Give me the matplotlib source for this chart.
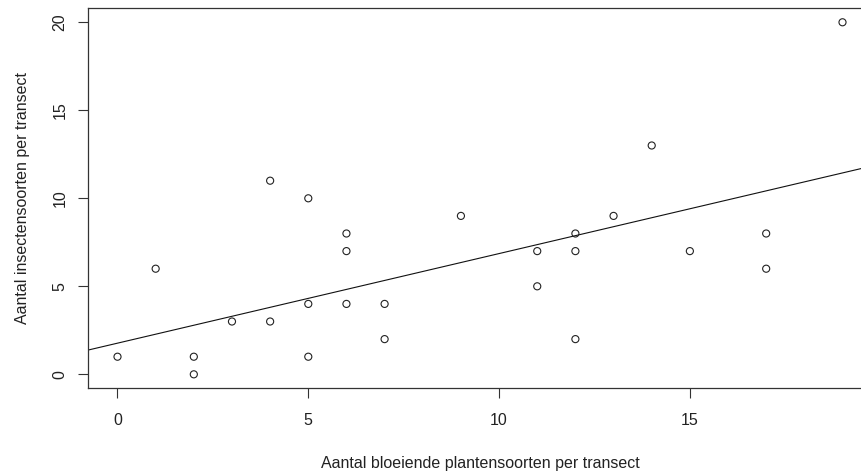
import matplotlib
matplotlib.use("Agg")
import matplotlib.pyplot as plt
import numpy as np

# Data
plant_species = [0, 1, 2, 2, 3, 4, 4, 5, 5, 5, 6, 6, 6, 7, 7, 9, 11, 11, 12, 12, 12, 13, 14, 15, 17, 17, 19]
insect_species = [1, 6, 1, 0, 3, 11, 3, 10, 4, 1, 8, 7, 4, 4, 2, 9, 7, 5, 8, 7, 2, 9, 13, 7, 8, 6, 20]
fit_intercept = 1.77
fit_slope = 0.509
x_ticks = [0, 5, 10, 15]
y_ticks = [0, 5, 10, 15, 20]
x_label = "Aantal bloeiende plantensoorten per transect"
y_label = "Aantal insectensoorten per transect"

plt.rcParams['font.family'] = ['Liberation Sans', 'DejaVu Sans']

W, H = 862, 472
fig = plt.figure(figsize=(W / 100, H / 100), dpi=100)
ax = fig.add_axes([88.5 / W, (H - 388.4) / H, (871.5 - 88.5) / W, (388.4 - 8.2) / H])

x = np.array(plant_species)
y = np.array(insect_species)
ax.scatter(x, y, s=26, facecolors='none', edgecolors='#222222', linewidths=0.8, zorder=3)

xmin, xmax = x.min(), x.max()
ymin, ymax = y.min(), y.max()
xr = (xmax - xmin) * 0.04
yr = (ymax - ymin) * 0.04
ax.set_xlim(xmin - xr, xmax + xr)
ax.set_ylim(ymin - yr, ymax + yr)

xl = np.array(ax.get_xlim())
ax.plot(xl, fit_intercept + fit_slope * xl, color='#111111', linewidth=0.8, zorder=2)

ax.set_xticks(x_ticks)
ax.set_yticks(y_ticks)
ax.set_xticklabels([str(t) for t in x_ticks])
ax.set_yticklabels([str(t) for t in y_ticks], rotation=90, va='center')
ax.tick_params(axis='both', direction='out', length=7, width=0.8, color='#333333',
               labelsize=11.5, labelcolor='#222222')
ax.tick_params(axis='x', pad=11)
ax.tick_params(axis='y', pad=8)
for s in ax.spines.values():
    s.set_linewidth(0.9)
    s.set_color('#333333')
ax.spines['right'].set_visible(False)

ax.set_xlabel(x_label, fontsize=11.5, color='#222222', labelpad=20)
ax.set_ylabel(y_label, fontsize=11.5, color='#222222', labelpad=16)

fig.savefig("out.png", dpi=100)
